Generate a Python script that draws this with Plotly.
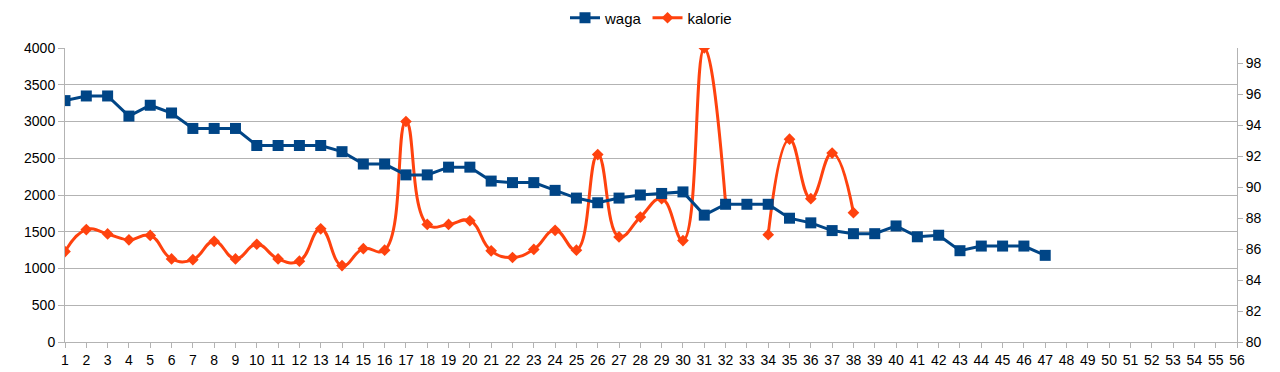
import plotly.graph_objects as go

days = list(range(1, 57))
waga_days = list(range(1, 48))
waga = [95.6, 95.9, 95.9, 94.6, 95.3, 94.8, 93.8, 93.8, 93.8, 92.7,
        92.7, 92.7, 92.7, 92.3, 91.5, 91.5, 90.8, 90.8, 91.3, 91.3,
        90.4, 90.3, 90.3, 89.8, 89.3, 89.0, 89.3, 89.5, 89.6, 89.7,
        88.2, 88.9, 88.9, 88.9, 88.0, 87.7, 87.2, 87.0, 87.0, 87.5,
        86.8, 86.9, 85.9, 86.2, 86.2, 86.2, 85.6]
kal_days = list(range(1, 39))
kalorie = [1230, 1530, 1470, 1390, 1450, 1130, 1120, 1370, 1130, 1330,
           1130, 1100, 1540, 1040, 1270, 1250, 3000, 1600, 1600, 1650,
           1240, 1150, 1260, 1520, 1250, 2550, 1430, 1700, 1950, 1380,
           4000, 1890, None, 1460, 2760, 1950, 2570, 1760]

BLUE = "#004586"
ORANGE = "#ff420e"
FONT = "Liberation Sans"
GRID = "#b3b3b3"

fig = go.Figure()
fig.add_trace(go.Scatter(
    x=waga_days, y=waga, name="waga", yaxis="y2", mode="lines+markers",
    line=dict(color=BLUE, width=3),
    marker=dict(symbol="square", size=11, color=BLUE),
))
fig.add_trace(go.Scatter(
    x=kal_days, y=kalorie, name="kalorie", yaxis="y", mode="lines+markers",
    connectgaps=False,
    line=dict(color=ORANGE, width=3, shape="spline", smoothing=1.3),
    marker=dict(symbol="diamond", size=9, color=ORANGE),
))

tickfont = dict(family=FONT, size=14, color="#000000")
fig.update_layout(
    width=1280, height=372,
    margin=dict(l=65, r=43, t=48, b=30, autoexpand=False),
    paper_bgcolor="white", plot_bgcolor="white",
    font=dict(family=FONT, size=14, color="#000000"),
    showlegend=True,
    legend=dict(orientation="h", x=0.5, xanchor="center",
                yref="container", y=1 - 18 / 372, yanchor="middle",
                font=dict(family=FONT, size=15, color="#000000"),
                traceorder="normal", bgcolor="rgba(0,0,0,0)"),
    xaxis=dict(range=[1, 56], tickmode="linear", tick0=1, dtick=1,
               showgrid=False, zeroline=False, showline=True, linecolor=GRID,
               ticks="outside", ticklen=5, tickcolor=GRID, automargin=False,
               tickfont=tickfont),
    yaxis=dict(range=[0, 4000], tickmode="linear", tick0=0, dtick=500,
               showgrid=True, gridcolor=GRID, gridwidth=1, zeroline=False,
               showline=True, linecolor=GRID, ticks="outside", ticklen=6,
               tickcolor=GRID, automargin=False, tickfont=tickfont),
    yaxis2=dict(range=[80, 99], tickmode="linear", tick0=80, dtick=2,
                overlaying="y", side="right", showgrid=False, zeroline=False,
                showline=True, linecolor=GRID, ticks="outside", ticklen=5,
                tickcolor=GRID, automargin=False, tickfont=tickfont),
)

fig.write_html(
    "out.html",
    config={"displayModeBar": False},
    post_script="document.body.style.margin='0';document.body.style.overflow='hidden';",
)
